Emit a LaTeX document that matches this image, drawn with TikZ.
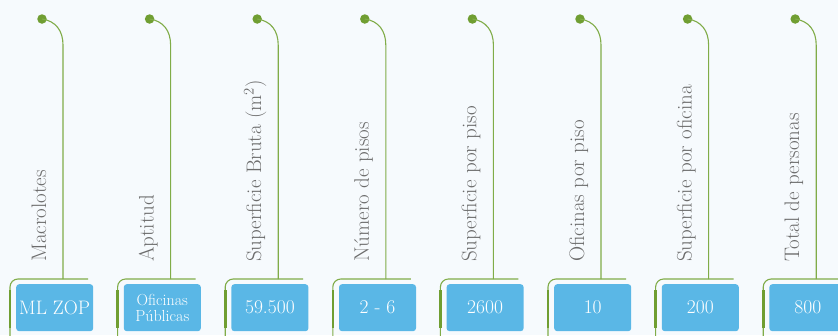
\documentclass[tikz,border=0pt]{standalone}
\usepackage{fontspec}
\usepackage{tikz}
\usetikzlibrary{calc, positioning}
\definecolor{PageBg}{RGB}{246,250,253}
\definecolor{StemGreen}{RGB}{128,172,72}
\definecolor{DotGreen}{RGB}{112,158,50}
\definecolor{BoxBlue}{RGB}{90,183,230}
\definecolor{LabelGray}{RGB}{108,108,108}
\tikzset{
  % tallo e punto
  stem/.style={StemGreen,line width=1.1pt},
  stem bar/.style={DotGreen,line width=2.6pt},
  dot/.style={circle,fill=DotGreen,inner sep=0,minimum size=9.5pt},
  % etichette e valori
  col label/.style={rotate=90,anchor=base west,inner sep=0,LabelGray,font=\fontsize{21}{23}\selectfont},
  value box/.style={rectangle,rounded corners=3pt,fill=BoxBlue,text=white,anchor=north west,
    minimum width=77pt,minimum height=47pt,inner sep=0,align=center},
  value big/.style={font=\fontsize{19.5}{21}\selectfont},
  value small/.style={font=\fontsize{16}{16.5}\selectfont}
}
\begin{document}
\begin{tikzpicture}[x=1pt,y=-1pt]
    \useasboundingbox (0,0) rectangle (838,335);
    \clip (0,0) rectangle (838,335);
    \fill[PageBg] (0,0) rectangle (838,335);
    \foreach \lab/\val/\fs [count=\i from 0] in {
        Macrolotes/ML ZOP/value big,
        Aptitud/Oficinas\\Públicas/value small,
        Superficie Bruta (m\textsuperscript{2})/59.500/value big,
        Número de pisos/2 - 6/value big,
        Superficie por piso/2600/value big,
        Oficinas por piso/10/value big,
        Superficie por oficina/200/value big,
        Total de personas/800/value big} {
      \pgfmathsetmacro{\xl}{16+107.6*\i}
      \node[dot] (dot\i) at (\xl+26,19) {};
      \coordinate (top\i) at (\xl+47,45);
      \coordinate (join\i) at (\xl+47,279);
      \coordinate (end\i) at (\xl+72,279);
      \coordinate (foot\i) at (\xl-6,340);
      \draw[stem] (dot\i.center) .. controls +(14,2) and +(0,-14) .. (top\i) -- (join\i);
      \draw[stem,rounded corners=8pt] (end\i) -| (foot\i);
      \draw[stem bar] (\xl-6,290) -- (\xl-6,328);
      \node[col label] (lab\i) at (\xl+30,262) {\lab};
      \node[value box,\fs] (box\i) at (\xl,284) {\val};
    }
  \end{tikzpicture}
\end{document}
